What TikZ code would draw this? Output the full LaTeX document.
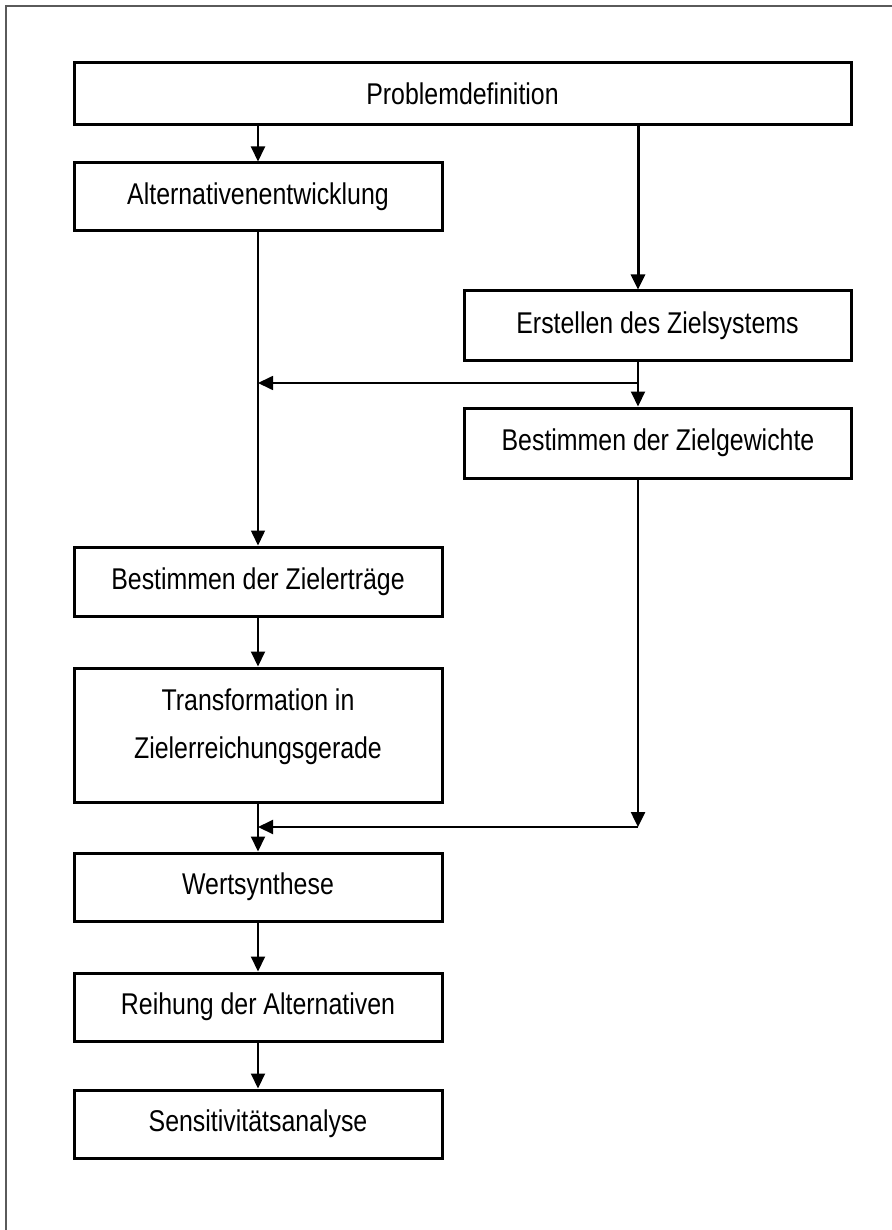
\documentclass[tikz,border=0pt]{standalone}
\usepackage{fontspec}
\setmainfont{Liberation Sans}[FakeStretch=0.83]
\usetikzlibrary{arrows.meta}

\definecolor{framegray}{RGB}{90,90,90}

\tikzset{
  box/.style={draw=black, line width=3pt, fill=white, inner sep=0pt,
    minimum width=368pt, minimum height=68pt,
    font=\fontsize{30}{36}\selectfont},
  widebox/.style={box, minimum width=387pt},
  flow/.style={draw=black, line width=2pt, -{Triangle[length=15pt,width=14pt]}},
  flowthin/.style={flow, line width=1.5pt},
  flowthick/.style={flow, line width=3pt},
}

\begin{document}
\begin{tikzpicture}[x=1pt,y=-1pt]
  \useasboundingbox (0,0) rectangle (891,1230);

  % outer frame (only top and left edges lie within the page)
  \draw[framegray, line width=2pt] (6,1240) -- (6,6) -- (900,6);

  % process steps
  \node[box, minimum width=777pt, minimum height=62pt] (prob) at (462.5,94) {Problemdefinition};
  \node[box] (alt)  at (258,197)   {Alternativenentwicklung};
  \node[widebox, minimum height=69pt] (zsys) at (657.5,325.5) {Erstellen des Zielsystems};
  \node[widebox, minimum height=70pt] (zgew) at (658,443)     {Bestimmen der Zielgewichte};
  \node[box, minimum height=69pt] (zert) at (258,581.5) {Bestimmen der Zielerträge};
  \node[box, minimum height=134pt] (trafo) at (258,735) {};
  \node[font=\fontsize{30}{48}\selectfont, align=center, inner sep=0pt] (trafotxt) at (258,727)
    {Transformation in\\Zielerreichungsgerade};
  \node[box] (wert) at (258,887)  {Wertsynthese};
  \node[box] (reih) at (258,1007) {Reihung der Alternativen};
  \node[box] (sens) at (258,1124) {Sensitivitätsanalyse};

  % helper points on the two flow lanes
  \coordinate (rlane) at (638,0);
  \coordinate (split) at (638,383);
  \coordinate (joinR) at (638,827);
  \coordinate (joinL) at (258,827);
  \coordinate (splitL) at (258,383);

  % left lane
  \draw[flow] (prob.south -| alt.north) -- (alt.north);
  \draw[flowthin] (alt.south) -- (zert.north);
  \draw[flow] (zert.south) -- (trafo.north);
  \draw[flow] (trafo.south) -- (wert.north);
  \draw[flow] (wert.south) -- (reih.north);
  \draw[flow] (reih.south) -- (sens.north);

  % right lane
  \draw[flowthick] (prob.south -| rlane) -- (zsys.north -| rlane);
  \draw[flow] (zsys.south -| rlane) -- (zgew.north -| rlane);
  \draw[flow, line width=1.7pt] (split) -- (splitL);
  \draw[flow, line width=2.5pt] (zgew.south -| rlane) -- (joinR);
  \draw[flow] (joinR) -- (joinL);
\end{tikzpicture}
\end{document}
